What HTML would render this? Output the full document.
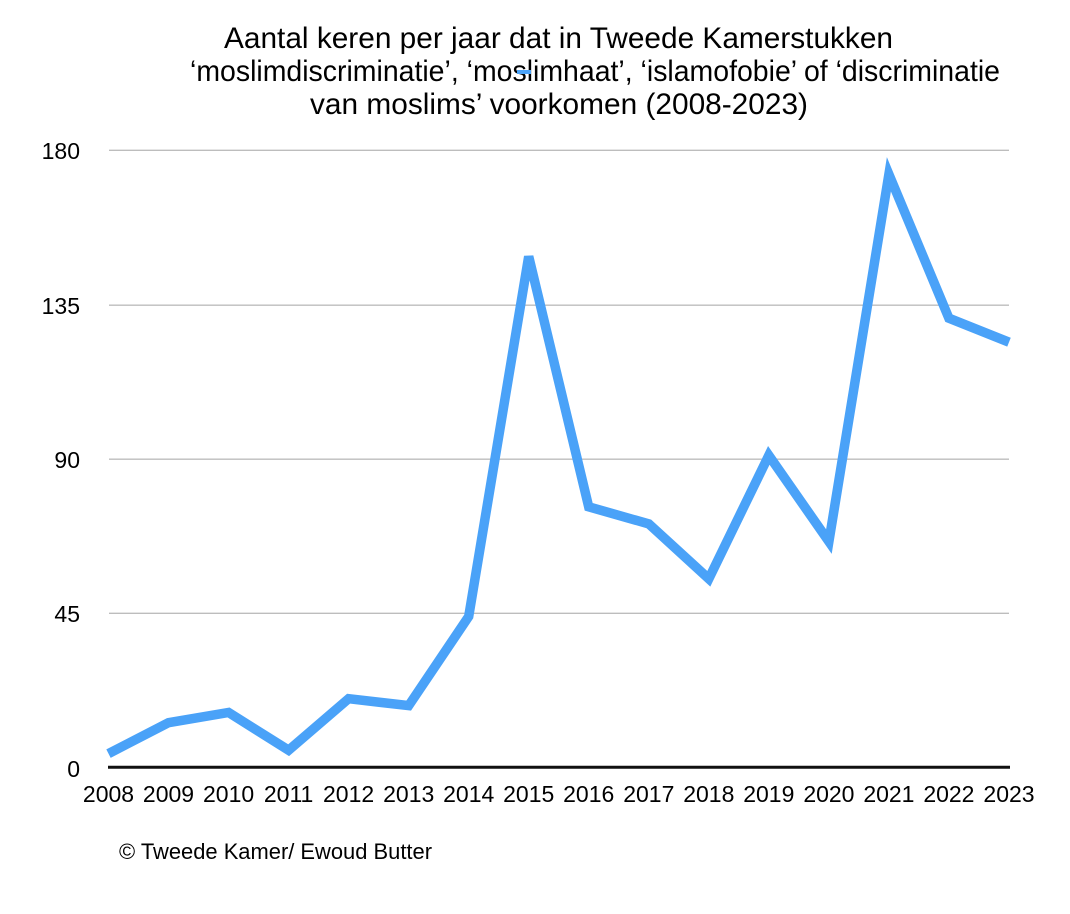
<!DOCTYPE html>
<html>
<head>
<meta charset="utf-8">
<style>
  html, body { margin:0; padding:0; background:#ffffff; }
  body { width:1070px; height:914px; overflow:hidden; }
  svg { display:block; }
  text { font-family: "Liberation Sans", Arial, Helvetica, sans-serif; fill:#000; }
</style>
</head>
<body>
<svg width="1070" height="914" viewBox="0 0 1070 914" xmlns="http://www.w3.org/2000/svg">
  <rect x="0" y="0" width="1070" height="914" fill="#ffffff"/>

  <!-- Title -->
  <text x="558.5" y="48" font-size="29.5" text-anchor="middle" textLength="669" lengthAdjust="spacingAndGlyphs">Aantal keren per jaar dat in Tweede Kamerstukken</text>
  <text x="595" y="81" font-size="29.5" text-anchor="middle" textLength="810" lengthAdjust="spacingAndGlyphs">‘moslimdiscriminatie’, ‘moslimhaat’, ‘islamofobie’ of ‘discriminatie</text>
  <text x="559" y="114" font-size="29.5" text-anchor="middle" textLength="498" lengthAdjust="spacingAndGlyphs">van moslims’ voorkomen (2008-2023)</text>
  <!-- legend dash artifact -->
  <rect x="517" y="70" width="14" height="4" fill="#4aa2f8"/>

  <!-- Gridlines -->
  <g stroke="#bdbdbd" stroke-width="1.3">
    <line x1="109" y1="150.3" x2="1009" y2="150.3"/>
    <line x1="109" y1="305.2" x2="1009" y2="305.2"/>
    <line x1="109" y1="459.2" x2="1009" y2="459.2"/>
    <line x1="109" y1="613.3" x2="1009" y2="613.3"/>
  </g>

  <!-- Y labels -->
  <g font-size="23" text-anchor="end">
    <text x="80" y="159">180</text>
    <text x="80" y="314">135</text>
    <text x="80" y="468">90</text>
    <text x="80" y="622">45</text>
    <text x="80" y="777">0</text>
  </g>

  <!-- Axis -->
  <line x1="108" y1="767.3" x2="1010" y2="767.3" stroke="#111" stroke-width="3"/>

  <!-- X labels -->
  <g font-size="23" text-anchor="middle">
    <text x="108.5" y="802">2008</text>
    <text x="168.5" y="802">2009</text>
    <text x="228.6" y="802">2010</text>
    <text x="288.6" y="802">2011</text>
    <text x="348.6" y="802">2012</text>
    <text x="408.7" y="802">2013</text>
    <text x="468.7" y="802">2014</text>
    <text x="528.7" y="802">2015</text>
    <text x="588.7" y="802">2016</text>
    <text x="648.8" y="802">2017</text>
    <text x="708.8" y="802">2018</text>
    <text x="768.8" y="802">2019</text>
    <text x="828.9" y="802">2020</text>
    <text x="888.9" y="802">2021</text>
    <text x="948.9" y="802">2022</text>
    <text x="1009" y="802">2023</text>
  </g>

  <!-- Data line -->
  <polyline fill="none" stroke="#4aa2f8" stroke-width="9.5" stroke-linejoin="miter" stroke-miterlimit="4" stroke-linecap="butt"
    points="108.5,753.6 168.5,722.7 228.6,712.5 288.6,750.2 348.6,698.7 408.7,705.6 468.7,616.5 528.7,256.5 588.7,506.8 648.8,523.9 708.8,578.8 768.8,455.4 828.9,541.6 888.9,174.3 948.9,318.2 1009,342.2"/>

  <!-- Footer -->
  <text x="119" y="859" font-size="22" textLength="313" lengthAdjust="spacingAndGlyphs">© Tweede Kamer/ Ewoud Butter</text>
</svg>
</body>
</html>
